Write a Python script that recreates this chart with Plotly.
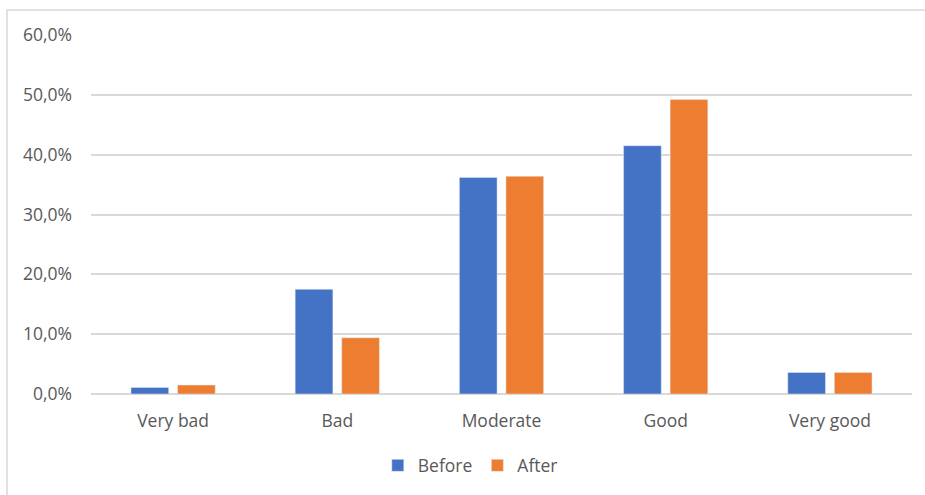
import plotly.graph_objects as go

categories = ["Very bad", "Bad", "Moderate", "Good", "Very good"]
before = [0.011, 0.175, 0.362, 0.415, 0.036]
after = [0.015, 0.094, 0.364, 0.492, 0.036]
y_ticks = [0, 0.1, 0.2, 0.3, 0.4, 0.5, 0.6]

BLUE = "#4472C4"
ORANGE = "#ED7D31"
GRID = "#D9D9D9"
TEXT = "#595959"
FONT = "Open Sans"
SIZE = 17.5

fig = go.Figure()
fig.add_trace(go.Bar(name="Before", x=categories, y=before, marker_color=BLUE))
fig.add_trace(go.Bar(name="After", x=categories, y=after, marker_color=ORANGE))

fig.update_layout(
    width=925,
    height=495,
    margin=dict(l=91, r=13, t=35, b=101, autoexpand=False),
    paper_bgcolor="white",
    plot_bgcolor="white",
    barmode="group",
    bargap=0.433,
    bargroupgap=0.19,
    separators=",.",
    font=dict(family=FONT, size=SIZE, color=TEXT),
    showlegend=True,
    legend=dict(
        orientation="h",
        x=0.462,
        xanchor="center",
        y=-0.149,
        yanchor="top",
        font=dict(family=FONT, size=SIZE, color=TEXT),
        itemclick=False,
    ),
    shapes=[
        dict(
            type="rect",
            xref="paper",
            yref="paper",
            x0=-0.1023,
            x1=1.05,
            y0=-0.5,
            y1=1.0696,
            line=dict(color=GRID, width=1.5),
            fillcolor="rgba(0,0,0,0)",
            layer="below",
        )
    ],
)

fig.update_yaxes(
    range=[0, 0.6],
    tickvals=y_ticks,
    tickformat=".1%",
    showgrid=True,
    gridcolor=GRID,
    gridwidth=1.5,
    zeroline=True,
    zerolinecolor=GRID,
    zerolinewidth=1.5,
    showline=False,
    ticks="",
    automargin=False,
    ticklabelstandoff=18,
    tickfont=dict(family=FONT, size=SIZE, color=TEXT),
)
fig.update_xaxes(
    showgrid=False,
    showline=False,
    ticks="",
    automargin=False,
    ticklabelstandoff=14,
    tickfont=dict(family=FONT, size=SIZE, color=TEXT),
)

fig.write_html("out.html")
